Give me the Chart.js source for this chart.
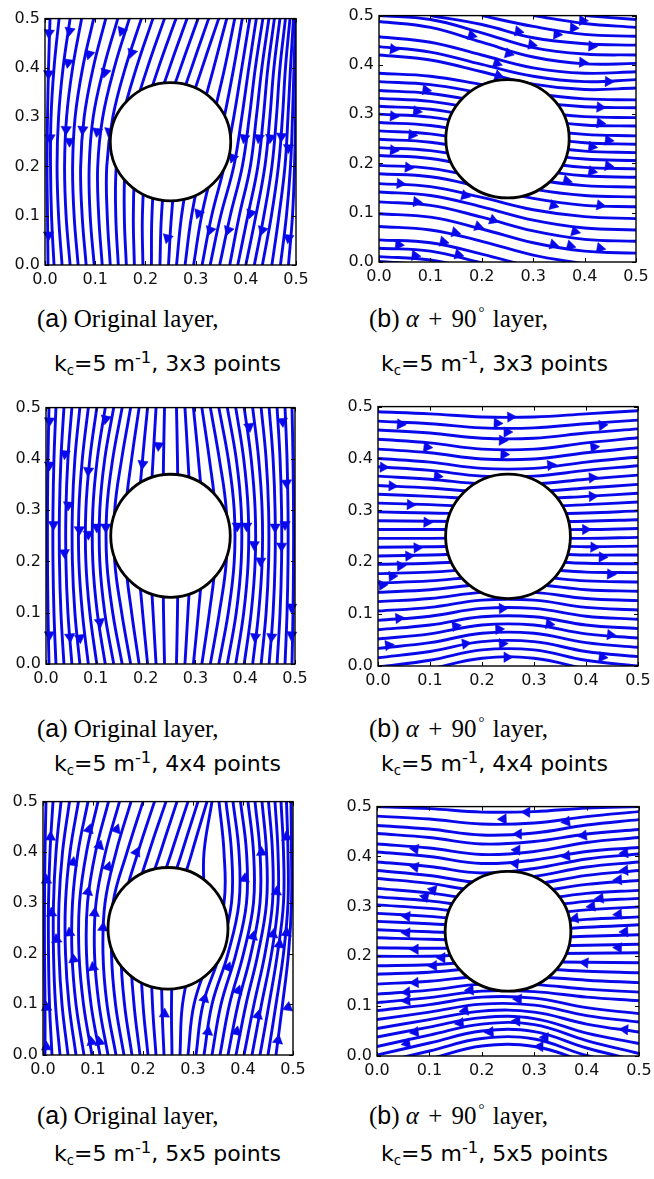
<!DOCTYPE html>
<html><head><meta charset="utf-8">
<script src="https://cdn.jsdelivr.net/npm/chart.js@4.4.0/dist/chart.umd.min.js"></script>
<style>
html,body{margin:0;padding:0;background:#fff;}
#wrap{position:relative;width:654px;height:1179px;overflow:hidden;background:#fff;}
canvas{position:absolute;}
.cap{position:absolute;white-space:nowrap;color:#000;line-height:1;}
.c1{font-family:'Liberation Serif','Times New Roman',serif;font-size:25px;}
.c2{font-family:'DejaVu Sans',Verdana,sans-serif;font-size:22px;}
.sans{font-family:'Liberation Sans',Arial,sans-serif;}
.c2 sub{font-size:0.6em;vertical-align:-0.3em;line-height:0;}
.c2 sup{font-size:0.75em;vertical-align:0.5em;line-height:0;}
.c1 sup{font-size:0.6em;vertical-align:0.7em;line-height:0;margin:0 2px 0 2px;}
.pl{margin:0 3px;}
</style></head><body><div id="wrap"></div>
<script>
// ---------- data ----------
const tickValues = [0, 0.1, 0.2, 0.3, 0.4, 0.5];
const circleCenter = [0.25, 0.25];
const circleRadius = 0.12;
const gridLabels = ['3x3', '4x4', '5x5'];

// Panel 1 (a, 3x3): x positions of each streamline at y = levels
const p1Levels = [0, 0.1, 0.2, 0.3, 0.4, 0.5];
const p1Lines = [
[0.006,0.005,0.004,0.005,0.007,0.01],
[0.018,0.013,0.011,0.012,0.018,0.028],
[0.034,0.027,0.024,0.027,0.036,0.05],
[0.05,0.042,0.039,0.043,0.055,0.073],
[0.066,0.058,0.055,0.06,0.075,0.097],
[0.082,0.074,0.071,0.078,0.096,0.121],
[0.098,0.09,0.088,0.096,0.117,0.145],
[0.114,0.107,0.105,0.115,0.138,0.168],
[0.13,0.124,0.123,0.135,0.16,0.192],
[0.146,0.141,0.142,0.155,0.182,0.215],
[0.162,0.158,0.16,0.175,0.204,0.238],
[0.178,0.176,0.18,0.196,0.226,0.261],
[0.195,0.194,0.2,0.217,0.248,0.283],
[0.212,0.213,0.22,0.238,0.27,0.305],
[0.229,0.232,0.241,0.26,0.292,0.326],
[0.246,0.252,0.262,0.282,0.313,0.346],
[0.262,0.272,0.288,0.31,0.336,0.362],
[0.279,0.292,0.312,0.335,0.358,0.378],
[0.296,0.312,0.335,0.357,0.376,0.393],
[0.313,0.332,0.357,0.376,0.392,0.408],
[0.329,0.35,0.376,0.392,0.406,0.421],
[0.348,0.369,0.393,0.407,0.419,0.434],
[0.368,0.387,0.409,0.421,0.432,0.446],
[0.384,0.404,0.424,0.435,0.444,0.457],
[0.4,0.42,0.438,0.448,0.456,0.468],
[0.417,0.436,0.452,0.461,0.468,0.479],
[0.433,0.451,0.465,0.473,0.479,0.488],
[0.452,0.466,0.478,0.484,0.489,0.495],
[0.469,0.481,0.489,0.493,0.496,0.499],
[0.485,0.493,0.497,0.499,0.5,0.5]
];
const p1Arrows = [
[0.008,0.471,185],[0.049,0.475,190],[0.046,0.411,188],[0.088,0.428,195],[0.12,0.391,195],[0.153,0.475,200],
[0.173,0.431,198],[0.007,0.388,182],[0.01,0.258,180],[0.042,0.275,182],[0.049,0.251,182],[0.075,0.275,185],
[0.104,0.271,188],[0.128,0.271,190],[0.007,0.061,180],[0.244,0.055,195],[0.306,0.105,200],[0.329,0.071,200],
[0.365,0.071,200],[0.41,0.105,198],[0.433,0.071,198],[0.485,0.055,188],[0.374,0.218,200],[0.397,0.258,190],
[0.426,0.258,188],[0.449,0.258,186],[0.471,0.261,184],[0.485,0.238,182]
];

// Panel 2 (b, 3x3): y positions of each streamline at x = levels
const p2Levels = [0, 0.1, 0.2, 0.3, 0.4, 0.5];
const p2Lines = [
[null,null,null,null,0.5,0.492],
[null,null,null,0.5,0.484,0.476],
[null,null,0.5,0.478,0.462,0.458],
[null,0.5,0.482,0.455,0.443,0.44],
[0.5,0.492,0.465,0.435,0.422,0.42],
[0.488,0.476,0.446,0.416,0.402,0.403],
[0.457,0.446,0.42,0.394,0.383,0.386],
[0.437,0.426,0.401,0.377,0.366,0.37],
[0.42,0.41,0.386,0.361,0.35,0.353],
[0.383,0.377,0.36,0.342,0.331,0.329],
[0.366,0.36,0.343,0.325,0.315,0.313],
[0.348,0.342,0.325,0.306,0.295,0.293],
[0.332,0.326,0.309,0.29,0.278,0.276],
[0.316,0.31,0.292,0.271,0.259,0.256],
[0.3,0.294,0.276,0.255,0.242,0.239],
[0.283,0.277,0.259,0.238,0.225,0.222],
[0.266,0.26,0.242,0.222,0.209,0.206],
[0.249,0.243,0.225,0.205,0.192,0.189],
[0.232,0.226,0.208,0.188,0.175,0.172],
[0.216,0.21,0.19,0.168,0.155,0.152],
[0.196,0.19,0.17,0.148,0.135,0.132],
[0.179,0.173,0.152,0.129,0.115,0.112],
[0.159,0.153,0.131,0.106,0.092,0.088],
[0.142,0.135,0.112,0.085,0.069,0.065],
[0.122,0.115,0.091,0.063,0.046,0.042],
[0.098,0.091,0.067,0.039,0.022,0.018],
[0.072,0.065,0.042,0.014,-0.004,null],
[0.045,0.039,0.016,-0.012,null,null],
[0.028,0.022,-0.002,null,null,null],
[0.011,0.004,-0.018,null,null,null],
[0.001,-0.006,null,null,null,null]
];
const p2Arrows = [
[0.028,0.432,97],[0.18,0.46,105],[0.271,0.468,100],[0.346,0.462,95],[0.378,0.475,93],[0.396,0.49,92],
[0.297,0.441,100],[0.252,0.423,105],[0.229,0.403,108],[0.232,0.378,108],[0.414,0.438,93],[0.396,0.405,93],
[0.446,0.366,92],[0.091,0.349,98],[0.073,0.306,97],[0.028,0.296,95],[0.064,0.258,96],[0.028,0.227,95],
[0.057,0.192,96],[0.041,0.159,95],[0.073,0.122,96],[0.167,0.135,105],[0.222,0.085,110],
[0.193,0.072,108],[0.148,0.06,104],[0.125,0.041,102],[0.038,0.035,95],[0.07,0.013,96],[0.154,0.015,104],
[0.339,0.115,105],[0.43,0.115,100],[0.339,0.035,105],[0.372,0.033,105],[0.43,0.028,100],[0.381,0.062,104],
[0.43,0.314,95],[0.43,0.282,96],[0.414,0.234,98],[0.446,0.247,96],[0.414,0.184,100],[0.446,0.195,98],
[0.365,0.165,104]
];

// Panel 3 (a, 4x4): x positions at y = levels
const p3Levels = [0, 0.1, 0.2, 0.3, 0.4, 0.5];
const p3Lines = [
[0.006,0.004,0.003,0.003,0.004,0.006],
[0.02,0.016,0.014,0.014,0.016,0.02],
[0.036,0.03,0.027,0.027,0.03,0.036],
[0.052,0.044,0.04,0.04,0.044,0.052],
[0.068,0.058,0.053,0.053,0.058,0.068],
[0.085,0.073,0.066,0.066,0.073,0.085],
[0.102,0.088,0.08,0.08,0.088,0.102],
[0.119,0.103,0.094,0.094,0.103,0.119],
[0.136,0.118,0.108,0.108,0.118,0.136],
[0.153,0.134,0.122,0.122,0.134,0.153],
[0.17,0.152,0.138,0.138,0.152,0.17],
[0.187,0.172,0.16,0.16,0.172,0.187],
[0.204,0.194,0.186,0.186,0.194,0.204],
[0.221,0.215,0.21,0.21,0.215,0.221],
[0.238,0.236,0.235,0.235,0.236,0.238],
[0.262,0.264,0.265,0.265,0.264,0.262],
[0.279,0.285,0.29,0.29,0.285,0.279],
[0.296,0.306,0.314,0.314,0.306,0.296],
[0.313,0.328,0.34,0.34,0.328,0.313],
[0.33,0.348,0.362,0.362,0.348,0.33],
[0.347,0.366,0.378,0.378,0.366,0.347],
[0.364,0.382,0.392,0.392,0.382,0.364],
[0.381,0.397,0.406,0.406,0.397,0.381],
[0.398,0.412,0.42,0.42,0.412,0.398],
[0.415,0.427,0.434,0.434,0.427,0.415],
[0.432,0.442,0.447,0.447,0.442,0.432],
[0.448,0.456,0.46,0.46,0.456,0.448],
[0.464,0.47,0.473,0.473,0.47,0.464],
[0.48,0.484,0.486,0.486,0.484,0.48],
[0.494,0.496,0.497,0.497,0.496,0.494]
];
const p3Arrows = [
[0.007,0.474,182],[0.12,0.478,190],[0.038,0.41,185],[0.007,0.388,181],[0.085,0.377,186],[0.045,0.31,183],
[0.015,0.272,180],[0.067,0.262,180],[0.085,0.253,180],[0.102,0.267,180],[0.12,0.267,180],[0.037,0.217,178],
[0.108,0.082,172],[0.007,0.057,179],[0.048,0.053,175],[0.068,0.051,174],[0.194,0.39,188],[0.226,0.426,184],
[0.408,0.463,172],[0.475,0.473,176],[0.483,0.353,178],[0.384,0.269,180],[0.403,0.269,180],[0.418,0.233,182],
[0.431,0.201,183],[0.46,0.267,180],[0.48,0.272,180],[0.473,0.23,181],[0.493,0.111,183],[0.493,0.057,184],
[0.42,0.053,186],[0.453,0.053,185]
];

// Panel 4 (b, 4x4): y positions at x = levels
const p4Levels = [0, 0.1, 0.2, 0.3, 0.4, 0.5];
const p4Lines = [
[0.49,0.486,0.48,0.48,0.486,0.492],
[0.472,0.467,0.459,0.459,0.467,0.474],
[0.455,0.449,0.439,0.439,0.449,0.457],
[0.437,0.43,0.418,0.418,0.43,0.44],
[0.418,0.411,0.399,0.399,0.411,0.421],
[0.4,0.393,0.381,0.381,0.393,0.403],
[0.384,0.377,0.366,0.366,0.377,0.386],
[0.366,0.36,0.351,0.351,0.36,0.368],
[0.348,0.343,0.336,0.336,0.343,0.35],
[0.331,0.327,0.322,0.322,0.327,0.333],
[0.314,0.311,0.307,0.307,0.311,0.316],
[0.297,0.295,0.293,0.293,0.295,0.299],
[0.28,0.279,0.278,0.278,0.279,0.282],
[0.263,0.263,0.263,0.263,0.263,0.265],
[0.246,0.246,0.247,0.247,0.246,0.248],
[0.229,0.23,0.232,0.232,0.23,0.231],
[0.212,0.214,0.217,0.217,0.214,0.214],
[0.196,0.198,0.202,0.202,0.198,0.197],
[0.178,0.181,0.187,0.187,0.181,0.18],
[0.16,0.164,0.172,0.172,0.164,0.162],
[0.142,0.147,0.157,0.157,0.147,0.144],
[0.124,0.13,0.142,0.142,0.13,0.126],
[0.106,0.113,0.127,0.127,0.113,0.108],
[0.088,0.096,0.111,0.111,0.096,0.09],
[0.07,0.079,0.095,0.095,0.079,0.072],
[0.052,0.062,0.079,0.079,0.062,0.054],
[0.034,0.045,0.063,0.063,0.045,0.036],
[0.016,0.028,0.047,0.047,0.028,0.018],
[-0.002,0.011,0.031,0.031,0.011,0.0],
[null,-0.006,0.015,0.015,-0.006,null]
];
const p4Arrows = [
[0.043,0.466,95],[0.094,0.422,96],[0.01,0.383,93],[0.027,0.347,93],[0.114,0.366,97],[0.062,0.311,93],
[0.094,0.277,92],[0.075,0.228,88],[0.059,0.212,88],[0.043,0.193,87],[0.027,0.173,87],[0.008,0.156,86],
[0.04,0.092,85],[0.149,0.077,82],[0.168,0.043,82],[0.02,0.04,84],[0.229,0.468,92],[0.255,0.48,88],
[0.248,0.451,90],[0.239,0.435,92],[0.242,0.408,92],[0.232,0.071,88],[0.239,0.043,88],[0.248,0.017,90],
[0.239,0.111,88],[0.329,0.081,97],[0.332,0.387,84],[0.415,0.422,84],[0.431,0.464,85],[0.412,0.363,86],
[0.412,0.327,87],[0.399,0.263,90],[0.415,0.229,92],[0.431,0.21,92],[0.447,0.177,93],[0.447,0.06,96],
[0.431,0.017,96]
];

// Panel 5 (a, 5x5): x positions at y = levels
const p5Levels = [0, 0.1, 0.2, 0.3, 0.4, 0.5];
const p5Lines = [
[0.004,0.004,0.003,0.003,0.004,0.006],
[0.018,0.013,0.011,0.011,0.014,0.02],
[0.034,0.025,0.021,0.021,0.026,0.036],
[0.05,0.038,0.032,0.032,0.039,0.053],
[0.066,0.052,0.045,0.045,0.054,0.071],
[0.082,0.066,0.058,0.059,0.07,0.09],
[0.098,0.081,0.072,0.073,0.087,0.11],
[0.114,0.096,0.087,0.089,0.105,0.131],
[0.13,0.112,0.103,0.106,0.125,0.153],
[0.146,0.128,0.12,0.124,0.146,0.176],
[0.162,0.145,0.137,0.14,0.168,0.2],
[0.178,0.163,0.156,0.162,0.19,0.223],
[0.194,0.182,0.176,0.183,0.212,0.246],
[0.21,0.2,0.196,0.204,0.235,0.268],
[0.226,0.219,0.217,0.226,0.257,0.29],
[0.242,0.238,0.238,0.248,0.278,0.31],
[0.258,0.257,0.26,0.27,0.298,0.328],
[0.274,0.279,0.3,0.32,0.322,0.338],
[0.29,0.302,0.335,0.362,0.362,0.352],
[0.306,0.32,0.354,0.377,0.377,0.366],
[0.322,0.338,0.37,0.392,0.392,0.38],
[0.338,0.356,0.386,0.407,0.407,0.395],
[0.354,0.373,0.401,0.421,0.421,0.41],
[0.37,0.39,0.416,0.434,0.434,0.424],
[0.386,0.406,0.43,0.447,0.447,0.438],
[0.402,0.422,0.444,0.459,0.459,0.451],
[0.418,0.437,0.457,0.47,0.47,0.464],
[0.434,0.452,0.469,0.481,0.481,0.476],
[0.45,0.466,0.481,0.49,0.49,0.487],
[0.466,0.479,0.491,0.497,0.497,0.496]
];
const p5Arrows = [
[0.015,0.43,2],[0.007,0.345,0],[0.017,0.28,358],[0.027,0.228,355],[0.053,0.241,355],[0.061,0.189,352],
[0.007,0.094,358],[0.007,0.016,358],[0.06,0.38,8],[0.092,0.445,15],[0.113,0.413,15],[0.147,0.445,20],
[0.09,0.322,10],[0.13,0.371,18],[0.187,0.4,25],[0.103,0.28,5],[0.12,0.251,5],[0.1,0.173,352],
[0.097,0.026,350],[0.113,0.026,350],[0.437,0.4,358],[0.403,0.348,5],[0.467,0.322,3],[0.487,0.43,355],
[0.46,0.238,8],[0.42,0.234,12],[0.473,0.218,8],[0.487,0.241,5],[0.49,0.094,8],[0.43,0.078,12],
[0.47,0.029,10],[0.39,0.127,18],[0.387,0.046,12],[0.37,0.173,22],[0.33,0.046,8],[0.323,0.111,15],
[0.243,0.081,2]
];

// Panel 6 (b, 5x5): y positions at x = levels
const p6Levels = [0, 0.1, 0.2, 0.3, 0.4, 0.5];
const p6Lines = [
[0.5,0.496,0.489,0.49,0.497,0.5],
[0.481,0.475,0.465,0.467,0.48,0.49],
[0.462,0.455,0.443,0.447,0.463,0.474],
[0.446,0.438,0.425,0.43,0.445,0.454],
[0.425,0.417,0.404,0.41,0.428,0.438],
[0.409,0.4,0.386,0.393,0.41,0.418],
[0.389,0.38,0.367,0.376,0.395,0.405],
[0.372,0.362,0.348,0.36,0.379,0.389],
[0.356,0.346,0.332,0.344,0.362,0.372],
[0.336,0.327,0.315,0.328,0.344,0.352],
[0.319,0.311,0.3,0.312,0.326,0.332],
[0.303,0.296,0.287,0.297,0.31,0.316],
[0.286,0.28,0.273,0.282,0.293,0.299],
[0.27,0.265,0.26,0.266,0.274,0.279],
[0.253,0.249,0.246,0.251,0.258,0.263],
[0.237,0.234,0.233,0.236,0.24,0.243],
[0.217,0.216,0.218,0.22,0.222,0.224],
[0.2,0.2,0.204,0.205,0.206,0.207],
[0.181,0.183,0.189,0.189,0.188,0.187],
[0.164,0.168,0.176,0.175,0.17,0.167],
[0.144,0.15,0.16,0.159,0.152,0.147],
[0.124,0.132,0.144,0.143,0.134,0.128],
[0.107,0.117,0.13,0.129,0.118,0.111],
[0.091,0.103,0.118,0.116,0.097,0.085],
[0.073,0.088,0.104,0.102,0.081,0.068],
[0.055,0.073,0.09,0.088,0.064,0.048],
[0.038,0.058,0.077,0.075,0.046,0.025],
[0.019,0.042,0.064,0.063,0.031,0.005],
[0.002,0.026,0.05,0.049,0.016,-0.01],
[-0.015,0.01,0.035,0.034,0.001,-0.02],
[null,-0.006,0.02,0.019,-0.012,null]
];
const p6Arrows = [
[0.286,0.489,272],[0.241,0.475,268],[0.362,0.47,262],[0.27,0.445,270],[0.394,0.442,262],[0.073,0.415,278],
[0.267,0.413,272],[0.473,0.407,265],[0.362,0.401,262],[0.073,0.379,280],[0.264,0.386,275],[0.473,0.372,266],
[0.461,0.353,266],[0.107,0.333,282],[0.092,0.319,282],[0.426,0.316,264],[0.41,0.3,264],[0.461,0.284,266],
[0.378,0.276,262],[0.057,0.28,275],[0.057,0.247,272],[0.073,0.214,270],[0.124,0.197,270],[0.108,0.181,268],
[0.461,0.217,272],[0.473,0.249,268],[0.397,0.187,275],[0.073,0.147,266],[0.057,0.128,265],[0.057,0.111,264],
[0.178,0.132,266],[0.27,0.114,272],[0.168,0.091,262],[0.159,0.066,262],[0.073,0.048,262],[0.057,0.025,260],
[0.216,0.048,265],[0.267,0.07,270],[0.321,0.037,272],[0.311,0.019,272],[0.473,0.053,275]
];

// ---------- layout (page pixels of each plot frame) ----------
const panels = [
  {levels:p1Levels, lines:p1Lines, arrows:p1Arrows, vertical:true,  L:45,  R:296, T:16,  B:265},
  {levels:p2Levels, lines:p2Lines, arrows:p2Arrows, vertical:false, L:379, R:636, T:13,  B:262},
  {levels:p3Levels, lines:p3Lines, arrows:p3Arrows, vertical:true,  L:46,  R:295, T:405, B:664},
  {levels:p4Levels, lines:p4Lines, arrows:p4Arrows, vertical:false, L:378, R:638, T:404, B:666},
  {levels:p5Levels, lines:p5Lines, arrows:p5Arrows, vertical:true,  L:43,  R:293, T:799, B:1055},
  {levels:p6Levels, lines:p6Lines, arrows:p6Arrows, vertical:false, L:377, R:639, T:804, B:1056}
];
const capRows = [{y1:306,y2:353},{y1:716,y2:753},{y1:1103,y2:1143}];
const capX = {a1:37, a2:54, b1:369, b2:381};

const BLUE = 'rgb(8,8,235)';
const PAD_T = 12, PAD_R = 18, YW = 45, XH = 28;

const framePlugin = {
  id: 'frame',
  afterDatasetsDraw(chart) {
    const {ctx, chartArea: a} = chart;
    const x = chart.scales.x, y = chart.scales.y;
    ctx.save();
    const cx = x.getPixelForValue(circleCenter[0]);
    const cy = y.getPixelForValue(circleCenter[1]);
    const rx = Math.abs(x.getPixelForValue(circleCenter[0] + circleRadius) - cx);
    const ry = Math.abs(y.getPixelForValue(circleCenter[1] + circleRadius) - cy);
    ctx.beginPath();
    ctx.ellipse(cx, cy, rx, ry, 0, 0, Math.PI * 2);
    ctx.fillStyle = '#fff';
    ctx.fill();
    ctx.lineWidth = 2.8;
    ctx.strokeStyle = '#000';
    ctx.stroke();
    ctx.lineWidth = 1.4;
    ctx.strokeRect(a.left, a.top, a.right - a.left, a.bottom - a.top);
    ctx.lineWidth = 1;
    ctx.beginPath();
    x.ticks.forEach(t => {
      const px = Math.round(x.getPixelForValue(t.value)) + 0.5;
      ctx.moveTo(px, a.bottom); ctx.lineTo(px, a.bottom - 4);
      ctx.moveTo(px, a.top); ctx.lineTo(px, a.top + 4);
    });
    y.ticks.forEach(t => {
      const py = Math.round(y.getPixelForValue(t.value)) + 0.5;
      ctx.moveTo(a.left, py); ctx.lineTo(a.left + 4, py);
      ctx.moveTo(a.right, py); ctx.lineTo(a.right - 4, py);
    });
    ctx.stroke();
    ctx.restore();
  }
};

const wrap = document.getElementById('wrap');

function axis(pos) {
  return {
    type: 'linear', min: 0, max: 0.5, position: pos,
    ticks: {
      stepSize: 0.1, autoSkip: false, maxRotation: 0,
      callback: v => Number(v).toFixed(1),
      font: {family: "'DejaVu Sans', Verdana, sans-serif", size: 16},
      color: '#111', padding: 5
    },
    grid: {display: false, drawTicks: false},
    border: {display: false},
    afterFit: s => { if (pos === 'bottom') s.height = XH; else s.width = YW; }
  };
}

panels.forEach(p => {
  const cv = document.createElement('canvas');
  const w = (p.R - p.L) + YW + PAD_R;
  const h = (p.B - p.T) + PAD_T + XH;
  cv.width = w; cv.height = h;
  cv.style.left = (p.L - YW) + 'px';
  cv.style.top = (p.T - PAD_T) + 'px';
  cv.style.width = w + 'px'; cv.style.height = h + 'px';
  wrap.appendChild(cv);

  const datasets = [];
  datasets.push({
    data: p.arrows.map(a => ({x: a[0], y: a[1]})),
    showLine: false,
    pointStyle: 'triangle',
    pointRadius: 6,
    pointRotation: p.arrows.map(a => a[2]),
    pointBackgroundColor: BLUE,
    pointBorderColor: BLUE,
    pointBorderWidth: 0.5,
    order: 0,
    clip: 3
  });
  p.lines.forEach(vals => {
    const pts = [];
    vals.forEach((v, i) => {
      if (v === null) return;
      pts.push(p.vertical ? {x: v, y: p.levels[i]} : {x: p.levels[i], y: v});
    });
    datasets.push({
      data: pts,
      showLine: true,
      borderColor: BLUE,
      borderWidth: 2.9,
      pointRadius: 0,
      tension: 0.4,
      fill: false,
      order: 1,
      clip: 0
    });
  });

  new Chart(cv, {
    type: 'scatter',
    data: {datasets},
    options: {
      responsive: false, animation: false, devicePixelRatio: 1, events: [],
      layout: {padding: {top: PAD_T, right: PAD_R, left: 0, bottom: 0}},
      plugins: {legend: {display: false}, tooltip: {enabled: false}},
      scales: {x: axis('bottom'), y: axis('left')}
    },
    plugins: [framePlugin]
  });
});

capRows.forEach((r, i) => {
  const mk = (cls, x, y, html) => {
    const d = document.createElement('div');
    d.className = 'cap ' + cls;
    d.style.left = x + 'px'; d.style.top = y + 'px';
    d.innerHTML = html;
    wrap.appendChild(d);
  };
  mk('c1', capX.a1, r.y1, '(<span class="sans">a</span>) Original layer,');
  mk('c2', capX.a2, r.y2, 'k<sub>c</sub>=5 m<sup>-1</sup>, ' + gridLabels[i] + ' points');
  mk('c1', capX.b1, r.y1, '(<span class="sans">b</span>) <i>α</i> <span class="pl">+</span> 90<sup>°</sup> layer,');
  mk('c2', capX.b2, r.y2, 'k<sub>c</sub>=5 m<sup>-1</sup>, ' + gridLabels[i] + ' points');
});
</script></body></html>
